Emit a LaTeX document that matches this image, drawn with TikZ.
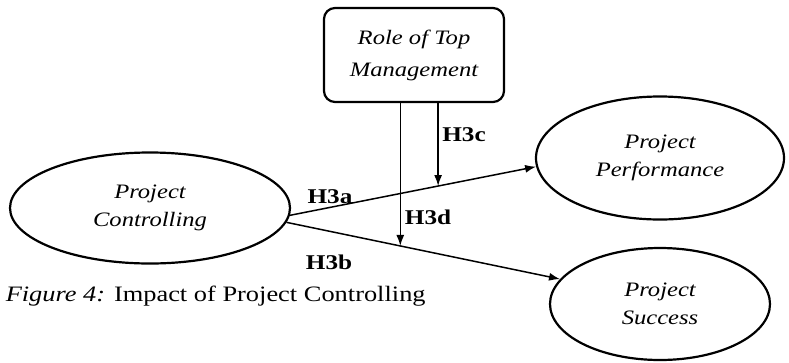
\documentclass[tikz,border=0pt]{standalone}
\usepackage{fontspec}
\setmainfont{Liberation Serif}[FakeStretch=1.2]
\usetikzlibrary{positioning, arrows.meta, shapes.geometric}

\tikzset{
    construct/.style={ellipse, draw, line width=2.2pt, align=center, inner sep=0pt,
        font=\itshape\fontsize{20.5}{28}\selectfont},
    moderator/.style={rectangle, rounded corners=11pt, draw, line width=2.2pt, align=center,
        inner sep=0pt, font=\itshape\fontsize{20.5}{32}\selectfont},
    hyp/.style={inner sep=0pt, font=\bfseries\fontsize{21}{24}\selectfont}
}

\begin{document}
\begin{tikzpicture}[x=1pt, y=-1pt, >={Latex[length=11pt,width=8pt]}, line width=1.5pt]
    \useasboundingbox (0,0) rectangle (789,362);

    \node[construct, minimum width=280pt, minimum height=111pt] (ctrl) at (150,208) {Project\\Controlling};
    \node[construct, minimum width=248pt, minimum height=123pt] (perf) at (660,158) {Project\\Performance};
    \node[construct, minimum width=220pt, minimum height=112pt] (succ) at (660,304) {Project\\Success};
    \node[moderator, minimum width=180pt, minimum height=94pt] (mgmt) at (414,55) {Role of Top\\Management};

    \draw[->] (ctrl.-3) -- coordinate[pos=0.602] (h3c) (perf.184);
    \draw[->] (ctrl.-6) -- coordinate[pos=0.416] (h3d) (succ.166);
    \draw[->] (mgmt.south -| h3c) -- (h3c);
    \draw[->] (mgmt.south -| h3d) -- (h3d);

    \node[hyp] (lblA) at (330,197) {H3a};
    \node[hyp] (lblB) at (329,262) {H3b};
    \node[hyp] (lblC) at (464,135) {H3c};
    \node[hyp] (lblD) at (428,217) {H3d};

    \node[anchor=west, inner sep=0pt, font=\fontsize{22}{24}\selectfont] (caption) at (5,296)
        {\textit{Figure 4:} Impact of Project Controlling};
\end{tikzpicture}
\end{document}
